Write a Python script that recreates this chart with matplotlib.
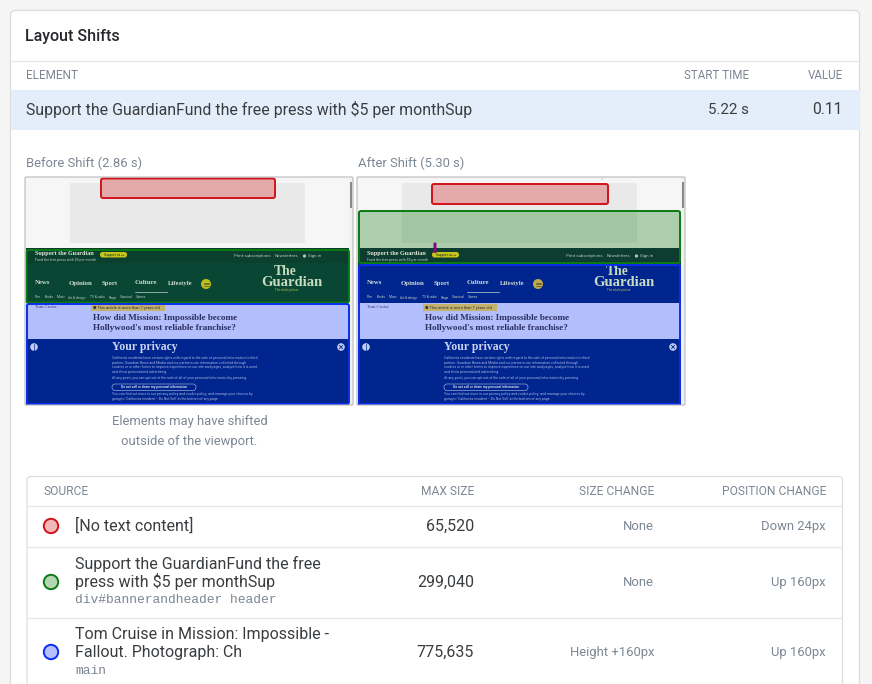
import matplotlib
matplotlib.use('Agg')
import matplotlib.pyplot as plt
from matplotlib.patches import Rectangle, FancyBboxPatch, Circle

# table values
shift_elements = ['Support the GuardianFund the free press with $5 per monthSup']
start_times = ['5.22 s']
shift_values = ['0.11']
source_lines = [['[No text content]'],
                ['Support the GuardianFund the free', 'press with $5 per monthSup'],
                ['Tom Cruise in Mission: Impossible -', 'Fallout. Photograph: Ch']]
source_selectors = ['', 'div#bannerandheader header', 'main']
max_sizes = ['65,520', '299,040', '775,635']
size_changes = ['None', 'None', 'Height +160px']
position_changes = ['Down 24px', 'Up 160px', 'Up 160px']
nav_items = ['News', 'Opinion', 'Sport', 'Culture', 'Lifestyle']
sub_nav = ['Film', 'Books', 'Music', 'Art & design', 'TV & radio', 'Stage', 'Classical', 'Games']
privacy_lines = ['California residents have certain rights with regard to the sale of personal information to third',
                 'parties. Guardian News and Media and our partners use information collected through',
                 'cookies or in other forms to improve experience on our site and pages, analyze how it is used',
                 'and show personalized advertising.',
                 'At any point, you can opt out of the sale of all of your personal information by pressing',
                 'You can find out more in our privacy policy and cookie policy, and manage your choices by',
                 'going to \'California resident \u2013 Do Not Sell\' at the bottom of any page.']

plt.rcParams['font.family'] = ['Roboto', 'DejaVu Sans']
fig = plt.figure(figsize=(8.72, 6.84), dpi=100, facecolor='#f5f5f5')
ax = fig.add_axes([0, 0, 1, 1])
ax.set_xlim(0, 872)
ax.set_ylim(684, 0)
ax.axis('off')

DARK = '#3a3d40'
GREY = '#7c8794'
SERIF = 'Liberation Serif'


def px(size):
    return size * 0.72


def txt(x, y, s, size=16, color=DARK, ha='left', **kw):
    ax.text(x, y, s, fontsize=px(size), color=color, ha=ha, va='center', **kw)


def hline(y, x0, x1, color='#e6e6e6'):
    ax.plot([x0, x1], [y, y], color=color, lw=0.9, solid_capstyle='butt')


def rect(x0, y0, x1, y1, color, **kw):
    ax.add_patch(Rectangle((x0, y0), x1 - x0, y1 - y0, facecolor=color, edgecolor='none', **kw))


def rbox(x0, y0, x1, y1, face, edge, r=2, lw=1.4, z=3):
    ax.add_patch(FancyBboxPatch((x0, y0), x1 - x0, y1 - y0,
                                boxstyle='round,pad=0,rounding_size=%s' % r,
                                facecolor=face, edgecolor=edge, lw=lw, zorder=z))


def page(dx):
    # page content, same for both thumbnails
    rect(dx + 25, 177, dx + 353, 405, '#f6f6f6', zorder=1)
    rect(dx + 70, 183, dx + 305, 243, '#e9e9e9', zorder=1)
    rect(dx + 26, 248, dx + 349, 263, '#0d3d31', zorder=1)
    rect(dx + 26, 263, dx + 349, 303, '#0b4437', zorder=1)
    rect(dx + 26, 303, dx + 349, 339, '#b3bffd', zorder=1)
    rect(dx + 26, 339, dx + 349, 405, '#00258f', zorder=1)
    rect(dx + 349, 177, dx + 353, 405, '#f1f1f1', zorder=1)
    rect(dx + 350, 182, dx + 352, 208, '#8a8a8a', zorder=1)


def page_text(dx, circle_color):
    z = 6
    txt(dx + 35, 254, 'Support the Guardian', 6.2, '#dfe8d8', family=SERIF, weight='bold', zorder=z)
    txt(dx + 35, 259.5, 'Fund the free press with $5 per month', 3.6, '#b8c8be', zorder=z)
    rbox(dx + 100, 252, dx + 127, 257.5, '#c8c418', 'none', r=2.5, lw=0, z=z)
    txt(dx + 113.5, 254.8, 'Support us \u2192', 3.4, '#1f3a20', ha='center', zorder=z + 1)
    txt(dx + 234, 256, 'Print subscriptions', 4.4, '#b9c8c2', zorder=z)
    txt(dx + 275, 256, 'Newsletters', 4.4, '#b9c8c2', zorder=z)
    ax.add_patch(Circle((dx + 304.5, 256), 1.6, facecolor='#b9c8c2', edgecolor='none', zorder=z))
    txt(dx + 308, 256, 'Sign in', 4.4, '#b9c8c2', zorder=z)
    for x, s in zip([35, 69, 102, 135, 168], nav_items):
        txt(dx + x, 283, s, 6.8, '#cfdcd2', family=SERIF, weight='bold', zorder=z)
    ax.plot([dx + 135, dx + 167], [291.5, 291.5], color='#c5d6cc', lw=0.5, zorder=z)
    ax.add_patch(Circle((dx + 206, 284), 5, facecolor=circle_color, edgecolor='none', zorder=z))
    for y in [282.5, 284, 285.5]:
        ax.plot([dx + 203.5, dx + 208.5], [y, y], color='#2a4030', lw=0.4, zorder=z + 1)
    txt(dx + 285, 271.5, 'The', 13.5, '#c8dcc0', ha='center', family=SERIF, weight='bold', zorder=z)
    txt(dx + 291.5, 282, 'Guardian', 14.6, '#c8dcc0', ha='center', family=SERIF, weight='bold', zorder=z)
    txt(dx + 286.5, 289.5, 'The whole picture', 2.9, '#b5b838', ha='center', zorder=z)
    for x, s in zip([35, 45, 57, 68, 90, 109, 120, 136], sub_nav):
        txt(dx + x, 297.5, s, 3.3, '#b9c8c2', zorder=z)
    txt(dx + 35, 307.5, 'Tom Cruise', 4.6, '#3a4064', family=SERIF, zorder=z)
    rect(dx + 91, 304, dx + 165, 311, '#c4b168', zorder=z)
    txt(dx + 93, 307.5, '\u25cf This article is more than 7 years old', 3.95, '#2f2f40', zorder=z + 1)
    txt(dx + 93, 318, 'How did Mission: Impossible become', 9.1, '#2a3060', family=SERIF, weight='bold', zorder=z)
    txt(dx + 93, 328, "Hollywood's most reliable franchise?", 9.1, '#2a3060', family=SERIF, weight='bold', zorder=z)
    txt(dx + 112, 347, 'Your privacy', 11.8, '#c8d2f2', family=SERIF, weight='bold', zorder=z)
    for y, s in zip([358, 362.7, 367.4, 372, 378.5, 394.5, 399], privacy_lines):
        txt(dx + 112, y, s, 3.55, '#a4b2dd', zorder=z)
    rbox(dx + 112, 384, dx + 196, 390.5, 'none', '#b8c6ec', r=3, lw=0.4, z=z)
    txt(dx + 154, 387.3, 'Do not sell or share my personal information', 3.4, '#d3dbf3', ha='center', weight='bold', zorder=z)
    ax.add_patch(Circle((dx + 34, 347), 3.8, facecolor='#c0cbee', edgecolor='none', zorder=z))
    ax.plot([dx + 34, dx + 34], [343.5, 350.5], color='#00258f', lw=0.5, zorder=z + 1)
    ax.add_patch(Circle((dx + 341, 347), 3.8, facecolor='#c0cbee', edgecolor='none', zorder=z))
    ax.plot([dx + 339.5, dx + 342.5], [345.5, 348.5], color='#00258f', lw=0.6, zorder=z + 1)
    ax.plot([dx + 339.5, dx + 342.5], [348.5, 345.5], color='#00258f', lw=0.6, zorder=z + 1)
    rbox(dx + 25, 177, dx + 353, 405, 'none', '#b9b9b9', r=1, lw=0.8, z=8)


# card
rbox(10.5, 10.5, 859.5, 720, 'white', '#dcdcdc', r=5, lw=0.9, z=0)
txt(25, 36, 'Layout Shifts', 16, '#26282b', weight='medium')
hline(60.5, 10, 860)
txt(26, 75.5, 'ELEMENT', 11.8, GREY)
txt(749, 75.5, 'START TIME', 11.6, GREY, ha='right')
txt(843, 75.5, 'VALUE', 11.6, GREY, ha='right')
rect(10.5, 90, 859.5, 130, '#e3eefa')
txt(26, 110, shift_elements[0], 15.95)
txt(749, 110, start_times[0], 15, ha='right')
txt(842, 110, shift_values[0], 15.6, ha='right')

txt(26, 163.5, 'Before Shift (2.86 s)', 13, GREY)
txt(358, 163.5, 'After Shift (5.30 s)', 13, GREY)

# before shift thumbnail
page(0)
rbox(101, 178.5, 275, 198, '#e4a9aa', '#d2121a', z=4)
rbox(26.5, 250, 349, 302.5, (0, 0.35, 0.1, 0.12), '#0a7a12', z=5)
rbox(27, 304, 349, 404, 'none', '#0a2cf0', z=7)
page_text(0, '#c2bd1e')

# after shift thumbnail
page(332)
rect(359, 265, 681, 303, '#00258f', zorder=2)
rect(358, 211, 681, 248, '#a9cba9', alpha=0.95, zorder=2)
rect(402, 211, 637, 243, '#a2c6a2', zorder=2)
rbox(432, 184, 608, 204, '#e4a9aa', '#d2121a', z=4)
rbox(359, 211, 680, 263, 'none', '#0a7a12', z=5)
rbox(359, 265, 680, 404, 'none', '#0a2cf0', z=7)
page_text(332, '#c2a84a')
rbox(433.5, 242.5, 436.5, 253, '#840a84', 'none', r=1, lw=0, z=7)
ax.add_patch(Circle((602, 179), 1.2, facecolor='#bfe8e2', edgecolor='none', zorder=7))

txt(189.5, 422, 'Elements may have shifted', 13, GREY, ha='center')
txt(189.5, 441, 'outside of the viewport.', 13, GREY, ha='center')

# sources table
rbox(27, 476.5, 842.5, 720, 'none', '#dedede', r=4, lw=0.9, z=1)
txt(43, 491.5, 'SOURCE', 12, GREY)
txt(474, 491.5, 'MAX SIZE', 12, GREY, ha='right')
txt(654, 491.5, 'SIZE CHANGE', 12, GREY, ha='right')
txt(826, 491.5, 'POSITION CHANGE', 12, GREY, ha='right')
for y in [505.5, 546.5, 617.5]:
    hline(y, 27, 842)

row_y = [526, 582, 652]
line_ys = [[526], [564, 581], [635, 652]]
sel_ys = [None, 600, 671]
dot_face = ['#f1b8b8', '#b4d4b4', '#b4bffb']
dot_edge = ['#d2121a', '#0a7a12', '#0a2cf0']
for i in range(3):
    ax.add_patch(Circle((51, row_y[i]), 7.2, facecolor=dot_face[i], edgecolor=dot_edge[i], lw=1.4, zorder=3))
    for y, s in zip(line_ys[i], source_lines[i]):
        txt(75, y, s, 16)
    if source_selectors[i]:
        txt(75, sel_ys[i], source_selectors[i], 13, GREY, family='Liberation Mono')
    txt(474, row_y[i], max_sizes[i], 16, ha='right')
    txt(654, row_y[i] + 0.5, size_changes[i], 13, GREY, ha='right')
    txt(826, row_y[i] + 0.5, position_changes[i], 13, GREY, ha='right')

fig.savefig('out.png', dpi=100, facecolor=fig.get_facecolor())
